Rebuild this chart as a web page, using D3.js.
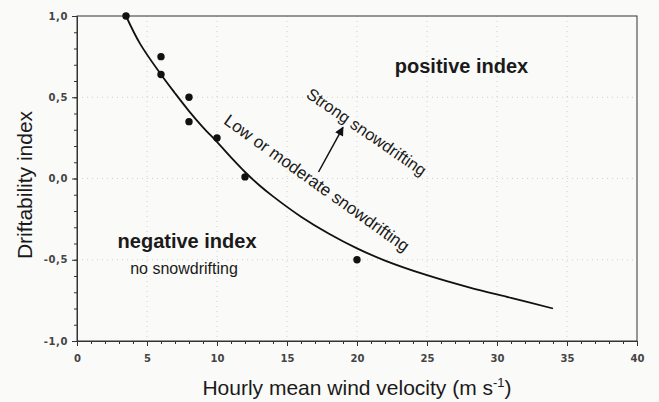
<!DOCTYPE html>
<html>
<head>
<meta charset="utf-8">
<script src="https://cdn.jsdelivr.net/npm/d3@7"></script>
<style>
  body { margin: 0; background: #fafaf8; }
  svg { display: block; }
  .tick text { font-family: "DejaVu Sans", sans-serif; font-weight: bold; fill: #444; }
  .label { font-family: "Liberation Sans", Arial, sans-serif; fill: #1a1a1a; }
</style>
</head>
<body>
<svg></svg>
<script>
// measured points
var pointX = [3.5, 6, 6, 8, 8, 10, 12, 20];
var pointY = [1.0, 0.75, 0.64, 0.5, 0.35, 0.25, 0.01, -0.5];

// fitted curve
var curveX = [3.5, 4.5, 6, 7, 8, 9, 10, 11, 12, 13, 14, 16, 18, 20, 22, 25, 28, 31, 34];
var curveY = [1.0, 0.83, 0.64, 0.525, 0.415, 0.315, 0.225, 0.13, 0.04, -0.04, -0.11, -0.235, -0.34, -0.43, -0.505, -0.595, -0.67, -0.735, -0.80];

var xTicks = [0, 5, 10, 15, 20, 25, 30, 35, 40];
var yTicks = [-1, -0.5, 0, 0.5, 1];
var xGrid = [5, 10, 15, 20, 25, 30, 35];
var yGrid = [-0.5, 0, 0.5];

var canvasWidth = 659;
var canvasHeight = 402;
var margin = {top: 16, right: 22, bottom: 61, left: 77};
var width = canvasWidth - margin.left - margin.right;
var height = canvasHeight - margin.top - margin.bottom;

var svg = d3.select('svg')
  .attr('width', canvasWidth)
  .attr('height', canvasHeight);

var g = svg.append('g')
  .attr('transform', 'translate(' + margin.left + ',' + margin.top + ')');

var xScale = d3.scaleLinear().domain([0, 40]).range([0, width]);
var yScale = d3.scaleLinear().domain([-1, 1]).range([height, 0]);

var locale = d3.formatLocale({decimal: ',', thousands: '.', grouping: [3], currency: ['', ''], minus: '-'});
var fmt = locale.format('.1f');

// faint dotted grid
g.selectAll('.vgrid')
  .data(xGrid)
  .enter().append('line')
  .attr('x1', function(d) { return xScale(d); })
  .attr('x2', function(d) { return xScale(d); })
  .attr('y1', 0)
  .attr('y2', height)
  .attr('stroke', '#c8c8c8')
  .attr('stroke-width', 0.8)
  .attr('stroke-dasharray', '1,4');
g.selectAll('.hgrid')
  .data(yGrid)
  .enter().append('line')
  .attr('x1', 0)
  .attr('x2', width)
  .attr('y1', function(d) { return yScale(d); })
  .attr('y2', function(d) { return yScale(d); })
  .attr('stroke', '#c8c8c8')
  .attr('stroke-width', 0.8)
  .attr('stroke-dasharray', '1,4');

// frame
g.append('rect')
  .attr('width', width)
  .attr('height', height)
  .attr('fill', 'none')
  .attr('stroke', '#333')
  .attr('stroke-width', 1);

// minor ticks
g.append('g')
  .attr('transform', 'translate(0,' + height + ')')
  .call(d3.axisBottom(xScale).tickValues(d3.range(0, 41, 1)).tickSize(3).tickFormat(''))
  .call(function(s) { s.select('.domain').remove(); s.selectAll('line').attr('stroke', '#333'); });
g.append('g')
  .call(d3.axisLeft(yScale).tickValues(d3.range(-10, 11, 1).map(function(d) { return d / 10; })).tickSize(3).tickFormat(''))
  .call(function(s) { s.select('.domain').remove(); s.selectAll('line').attr('stroke', '#333'); });

// major ticks
g.append('g')
  .attr('class', 'x axis')
  .attr('transform', 'translate(0,' + height + ')')
  .call(d3.axisBottom(xScale).tickValues(xTicks).tickSize(5).tickPadding(9))
  .call(function(s) {
    s.select('.domain').attr('stroke', '#333');
    s.selectAll('line').attr('stroke', '#333');
    s.selectAll('text').style('font-size', '10px');
  });
g.append('g')
  .attr('class', 'y axis')
  .call(d3.axisLeft(yScale).tickValues(yTicks).tickSize(5).tickPadding(4).tickFormat(fmt))
  .call(function(s) {
    s.select('.domain').attr('stroke', '#333');
    s.selectAll('line').attr('stroke', '#333');
    s.selectAll('text').style('font-size', '10px').style('letter-spacing', '0.6px');
  });

// curve
var line = d3.line()
  .x(function(d) { return xScale(d[0]); })
  .y(function(d) { return yScale(d[1]); })
  .curve(d3.curveCatmullRom.alpha(0.5));
g.append('path')
  .datum(curveX.map(function(x, i) { return [x, curveY[i]]; }))
  .attr('d', line)
  .attr('fill', 'none')
  .attr('stroke', '#111')
  .attr('stroke-width', 1.8);

// points
g.selectAll('.dot')
  .data(pointX.map(function(x, i) { return [x, pointY[i]]; }))
  .enter().append('circle')
  .attr('cx', function(d) { return xScale(d[0]); })
  .attr('cy', function(d) { return yScale(d[1]); })
  .attr('r', 3.7)
  .attr('fill', '#111');

// annotations
g.append('text')
  .attr('class', 'label')
  .attr('x', xScale(22.7))
  .attr('y', yScale(0.65))
  .style('font-size', '20px')
  .style('font-weight', 'bold')
  .text('positive index');
g.append('text')
  .attr('class', 'label')
  .attr('x', xScale(2.9))
  .attr('y', yScale(-0.43))
  .style('font-size', '20px')
  .style('font-weight', 'bold')
  .text('negative index');
g.append('text')
  .attr('class', 'label')
  .attr('x', xScale(3.8))
  .attr('y', yScale(-0.59))
  .style('font-size', '16px')
  .text('no snowdrifting');

g.append('text')
  .attr('class', 'label')
  .attr('text-anchor', 'middle')
  .attr('dominant-baseline', 'central')
  .attr('transform', 'translate(' + xScale(17.12) + ',' + yScale(-0.03) + ') rotate(35.5)')
  .style('font-size', '17px')
  .text('Low or moderate snowdrifting');
g.append('text')
  .attr('class', 'label')
  .attr('text-anchor', 'middle')
  .attr('dominant-baseline', 'central')
  .attr('transform', 'translate(' + xScale(20.7) + ',' + yScale(0.288) + ') rotate(34.5)')
  .style('font-size', '16.5px')
  .text('Strong snowdrifting');

// arrow
svg.append('defs').append('marker')
  .attr('id', 'head')
  .attr('viewBox', '0 0 10 10')
  .attr('refX', 9)
  .attr('refY', 5)
  .attr('markerWidth', 10)
  .attr('markerHeight', 9)
  .attr('markerUnits', 'userSpaceOnUse')
  .attr('orient', 'auto')
  .append('path')
  .attr('d', 'M0,0 L10,5 L0,10 z')
  .attr('fill', '#111');
g.append('line')
  .attr('x1', xScale(17.25))
  .attr('y1', yScale(0.04))
  .attr('x2', xScale(19.0))
  .attr('y2', yScale(0.315))
  .attr('stroke', '#111')
  .attr('stroke-width', 1.5)
  .attr('marker-end', 'url(#head)');

// axis titles
svg.append('text')
  .attr('class', 'label')
  .attr('text-anchor', 'middle')
  .attr('transform', 'translate(32,185) rotate(-90)')
  .style('font-size', '21px')
  .text('Driftability index');
var xl = svg.append('text')
  .attr('class', 'label')
  .attr('text-anchor', 'middle')
  .attr('x', margin.left + width / 2)
  .attr('y', 395)
  .style('font-size', '21px');
xl.append('tspan').text('Hourly mean wind velocity (m s');
xl.append('tspan').attr('dy', -8).style('font-size', '13px').text('-1');
xl.append('tspan').attr('dy', 8).text(')');
</script>
</body>
</html>
